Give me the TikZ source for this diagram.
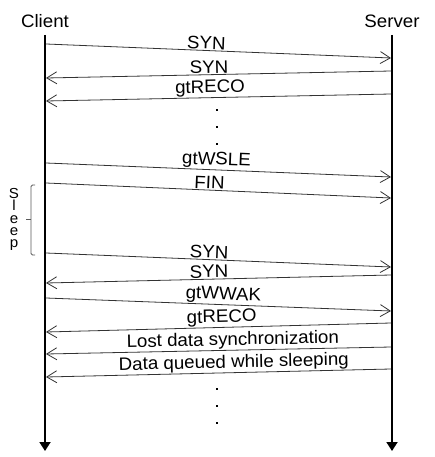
\documentclass[tikz,border=0pt]{standalone}
\usepackage{fontspec}
\setmainfont{Liberation Sans}[FakeStretch=1.04]
\usetikzlibrary{arrows.meta}
\begin{document}
\begin{tikzpicture}[x=1pt,y=-1pt,
  lifeline/.style={line width=1.8pt,-{Triangle[length=9pt,width=11pt]}},
  msg/.style={line width=0.8pt,black!80,-{Straight Barb[length=10pt,width=12pt,line width=0.8pt]}},
  lbl/.style={font=\fontsize{18}{20}\selectfont,text=black,sloped,above,inner sep=0.8pt},
  head/.style={font=\fontsize{18}{20}\selectfont,anchor=base},
  slp/.style={font=\fontsize{14.5}{14}\selectfont,anchor=base,inner sep=0pt,text height=1.2ex,text depth=0pt},
  dot/.style={fill=black}]
\useasboundingbox (0,0) rectangle (435,457);
\node[head] (client) at (45,28) {Client};
\node[head] (server) at (392,28) {Server};
\coordinate (ct) at (45,35); \coordinate (cb) at (45,451);
\coordinate (st) at (392,35); \coordinate (sb) at (392,451);
\draw[lifeline] (ct) -- (cb);
\draw[lifeline] (st) -- (sb);
% message endpoints
\coordinate (a1) at (46,44);  \coordinate (b1) at (391,58);
\coordinate (a2) at (391,71); \coordinate (b2) at (46,78);
\coordinate (a3) at (391,94); \coordinate (b3) at (46,101);
\coordinate (a4) at (46,163); \coordinate (b4) at (391,177);
\coordinate (a5) at (46,183); \coordinate (b5) at (391,198);
\coordinate (a6) at (46,253); \coordinate (b6) at (391,267);
\coordinate (a7) at (391,275); \coordinate (b7) at (46,283);
\coordinate (a8) at (46,298); \coordinate (b8) at (391,311);
\coordinate (a9) at (391,323); \coordinate (b9) at (46,332);
\coordinate (a10) at (391,347); \coordinate (b10) at (46,354);
\coordinate (a11) at (391,369); \coordinate (b11) at (46,377);
\draw[msg] (a1) -- node[lbl,pos=.464] (l1) {SYN} (b1);
\draw[msg] (a2) -- node[lbl,pos=.527] (l2) {SYN} (b2);
\draw[msg] (a3) -- node[lbl,pos=.524] (l3) {gtRECO} (b3);
\draw[msg] (a4) -- node[lbl,pos=.493] (l4) {gtWSLE} (b4);
\draw[msg] (a5) -- node[lbl,pos=.473] (l5) {FIN} (b5);
\draw[msg] (a6) -- node[lbl,pos=.472] (l6) {SYN} (b6);
\draw[msg] (a7) -- node[lbl,pos=.527] (l7) {SYN} (b7);
\draw[msg] (a8) -- node[lbl,pos=.513] (l8) {gtWWAK} (b8);
\draw[msg] (a9) -- node[lbl,pos=.49] (l9) {gtRECO} (b9);
\draw[msg] (a10) -- node[lbl,pos=.458] (l10) {Lost data synchronization} (b10);
\draw[msg] (a11) -- node[lbl,pos=.455] (l11) {Data queued while sleeping} (b11);
% dots
\foreach \yy in {109,126,143,388,405,422} \fill[dot] (216,\yy) rectangle +(2,2);
% sleep bracket
\draw[black!65,line width=0.8pt,rounded corners=1.5pt] (35,185) -- (31,185) -- (31,255) -- (35,255);
\draw[black!65,line width=0.8pt] (31,219) -- (26,219);
\node[slp] (s1) at (14,198) {S};
\node[slp] (s2) at (14,210.5) {l};
\node[slp] (s3) at (14,223) {e};
\node[slp] (s4) at (14,235.5) {e};
\node[slp] (s5) at (14,247) {p};
\end{tikzpicture}
\end{document}
